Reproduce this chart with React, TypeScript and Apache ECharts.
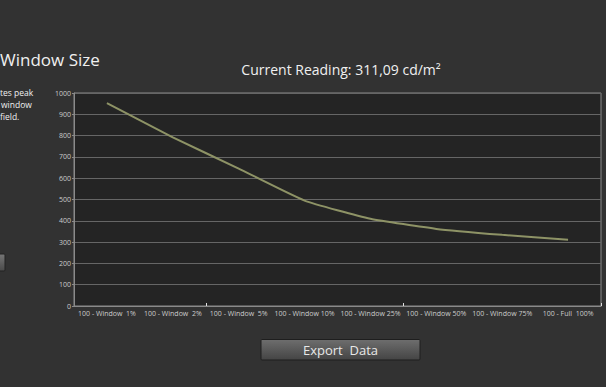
import React, { useEffect, useRef } from "react";
import * as echarts from "echarts";

const categories = [
  "100 - Window  1%",
  "100 - Window  2%",
  "100 - Window  5%",
  "100 - Window 10%",
  "100 - Window 25%",
  "100 - Window 50%",
  "100 - Window 75%",
  "100 - Full  100%",
];
const luminance = [952, 792, 645, 495, 410, 362, 334, 311];
const yTicks = { min: 0, max: 1000, interval: 100 };
const titleText = "Current Reading: 311,09 cd/m²";
const FONT = "'Open Sans', 'Noto Sans', sans-serif";

export default function App() {
  const ref = useRef<HTMLDivElement>(null);
  useEffect(() => {
    document.body.style.margin = "0";
    document.body.style.overflow = "hidden";
    document.body.style.background = "#323232";
    const chart = echarts.init(ref.current!, null, { renderer: "svg" });
    chart.setOption({
      animation: false,
      backgroundColor: "#323232",
      textStyle: { fontFamily: FONT },
      grid: {
        left: 74,
        right: 5,
        top: 93,
        bottom: 81,
        show: true,
        backgroundColor: "#242424",
        borderColor: "#8a8a8a",
        borderWidth: 1,
      },
      xAxis: {
        type: "category",
        data: categories,
        boundaryGap: true,
        axisLine: { lineStyle: { color: "#8a8a8a" } },
        axisTick: {
          show: true,
          interval: (i: number) => i === 2 || i === 5,
          length: 3,
          inside: true,
          lineStyle: { color: "#e0e0e0" },
        },
        axisLabel: {
          color: "#cccccc",
          fontSize: 7,
          margin: 4,
          interval: 0,
          fontFamily: FONT,
        },
        splitLine: { show: false },
      },
      yAxis: {
        type: "value",
        min: yTicks.min,
        max: yTicks.max,
        interval: yTicks.interval,
        axisLine: { show: true, lineStyle: { color: "#8a8a8a" } },
        axisTick: { show: true, length: 2, lineStyle: { color: "#8a8a8a" } },
        axisLabel: {
          color: "#cccccc",
          fontSize: 7,
          margin: 3,
          fontFamily: FONT,
          formatter: (v: number) => String(v),
        },
        splitLine: { lineStyle: { color: "#666666", width: 1 } },
      },
      series: [
        {
          type: "line",
          data: luminance,
          smooth: 0.15,
          symbol: "none",
          lineStyle: { color: "#8e9366", width: 2 },
        },
      ],
      graphic: [
        {
          type: "text",
          x: 341,
          y: 69,
          style: {
            text: titleText,
            align: "center",
            verticalAlign: "middle",
            fill: "#f0f0f0",
            font: `14px ${FONT}`,
          },
        },
        {
          type: "text",
          x: 0,
          y: 59,
          style: {
            text: "Window Size",
            align: "left",
            verticalAlign: "middle",
            fill: "#f0f0f0",
            font: `17px ${FONT}`,
          },
        },
        {
          type: "text",
          x: 0,
          y: 92,
          style: {
            text: "tes peak",
            align: "left",
            verticalAlign: "middle",
            fill: "#f0f0f0",
            font: `8.5px ${FONT}`,
          },
        },
        {
          type: "text",
          x: 1,
          y: 104,
          style: {
            text: "window",
            align: "left",
            verticalAlign: "middle",
            fill: "#f0f0f0",
            font: `8.5px ${FONT}`,
          },
        },
        {
          type: "text",
          x: 0,
          y: 116,
          style: {
            text: "field.",
            align: "left",
            verticalAlign: "middle",
            fill: "#f0f0f0",
            font: `8.5px ${FONT}`,
          },
        },
        {
          type: "rect",
          shape: { x: -50, y: 254, width: 55, height: 17, r: 1 },
          style: {
            fill: new echarts.graphic.LinearGradient(0, 0, 0, 1, [
              { offset: 0, color: "#767676" },
              { offset: 1, color: "#4a4a4a" },
            ]),
            stroke: "#222222",
            lineWidth: 1,
          },
        },
        {
          type: "rect",
          shape: { x: 261, y: 339.5, width: 159, height: 20.5, r: 1 },
          style: {
            fill: new echarts.graphic.LinearGradient(0, 0, 0, 1, [
              { offset: 0, color: "#6e6e6e" },
              { offset: 1, color: "#444444" },
            ]),
            stroke: "#1e1e1e",
            lineWidth: 1,
          },
        },
        {
          type: "text",
          x: 340.5,
          y: 350,
          style: {
            text: "Export  Data",
            align: "center",
            verticalAlign: "middle",
            fill: "#e8e8e8",
            font: `13px ${FONT}`,
          },
        },
        {
          type: "rect",
          z: 100,
          shape: { x: 602, y: 0, width: 10, height: 387 },
          style: { fill: "#323232" },
        },
      ],
    });
    return () => chart.dispose();
  }, []);
  return (
    <div
      ref={ref}
      style={{ position: "fixed", left: 0, top: 0, width: 606, height: 387 }}
    />
  );
}
